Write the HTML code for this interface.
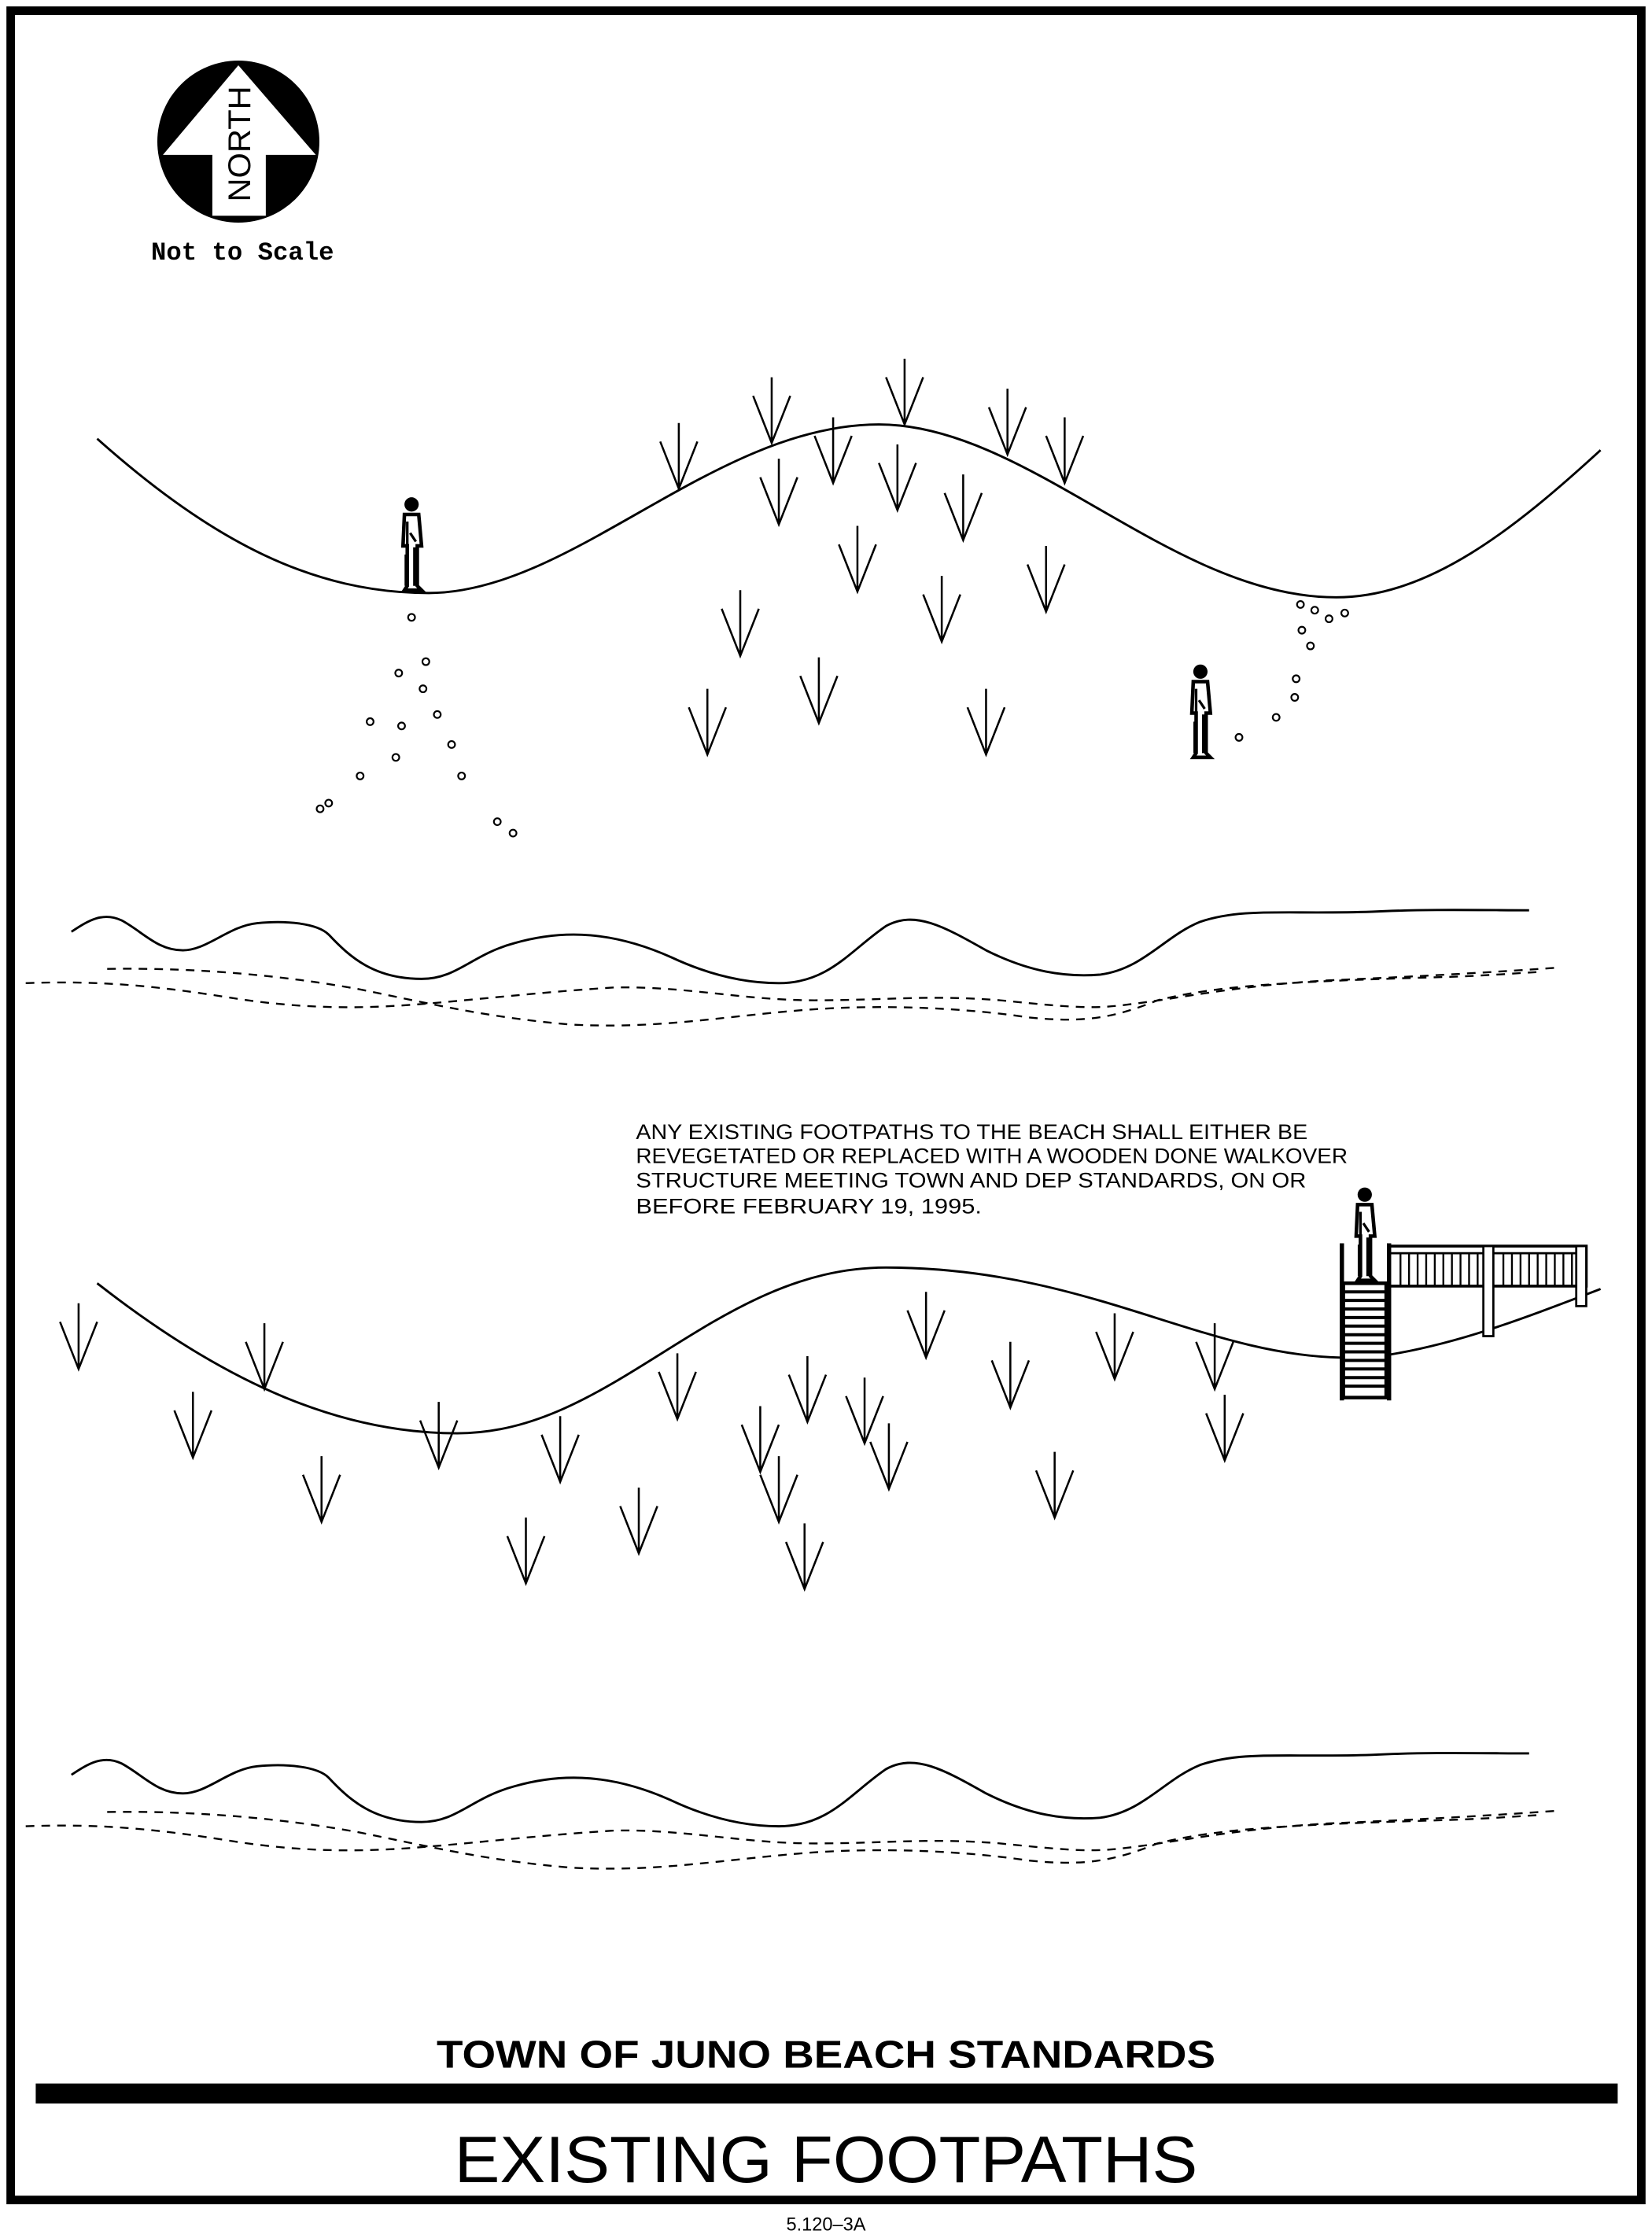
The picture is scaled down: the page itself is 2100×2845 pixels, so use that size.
<!DOCTYPE html>
<html><head><meta charset="utf-8"><style>html,body{margin:0;padding:0;background:#fff}svg{display:block}</style></head>
<body>
<svg width="2100" height="2845" viewBox="0 0 2100 2845" xmlns="http://www.w3.org/2000/svg">
<defs>
<g id="g"><path d="M0,-46 V0 M-13,-33 L0,0 L13,-33" fill="none" stroke="#000" stroke-width="1.4"/></g>
<g id="p"><circle cx="0" cy="-60" r="5" fill="#000"/><path d="M-5,-53 h10 l2,22 l-3,0 l0,28 l3,3 h-12 l2,-3 l0,-28 l-3,0 z" fill="#fff" stroke="#000" stroke-width="2.5"/><path d="M-3,-48 l0,20 M2,-30 l0,27 M-1,-40 l4,6 M-4,-25 l0,22" stroke="#000" stroke-width="1.8"/></g>
<circle id="o" r="2.4" fill="none" stroke="#000" stroke-width="1.2"/>
</defs>
<g transform="scale(1.8166)">
<rect x="7.5" y="7.5" width="1141" height="1532" fill="none" stroke="#000" stroke-width="6"/>
<text x="578" y="1561" font-family="Liberation Sans, sans-serif" font-size="13" text-anchor="middle">5.120–3A</text>
<!-- north -->
<circle cx="166.8" cy="99.1" r="56.7" fill="#000"/>
<path d="M166.8,45.7 L221,108.4 L186,108.4 L186,151 L148.6,151 L148.6,108.4 L114,108.4 Z" fill="#fff"/>
<text transform="translate(175,100.7) rotate(-90)" font-family="Liberation Sans, sans-serif" font-size="22" text-anchor="middle" textLength="81" lengthAdjust="spacingAndGlyphs">NORTH</text>
<text x="105.7" y="181.7" font-family="Liberation Mono, monospace" font-weight="bold" font-size="18" textLength="128" lengthAdjust="spacingAndGlyphs">Not to Scale</text>
<!-- upper dune -->
<path d="M68,307 C150,380 220,415 300,415 C400,415 500,297 615,297 C720,297 820,418 935,418 C1000,418 1060,370 1120,315" fill="none" stroke="#000" stroke-width="1.6"/>
<g>
<use href="#g" x="475" y="342"/><use href="#g" x="540" y="310"/><use href="#g" x="633" y="297"/><use href="#g" x="705" y="318"/><use href="#g" x="745" y="338"/><use href="#g" x="583" y="338"/><use href="#g" x="628" y="357"/><use href="#g" x="545" y="367"/><use href="#g" x="674" y="378"/><use href="#g" x="600" y="414"/><use href="#g" x="732" y="428"/><use href="#g" x="659" y="449"/><use href="#g" x="518" y="459"/><use href="#g" x="573" y="506"/><use href="#g" x="495" y="528"/><use href="#g" x="690" y="528"/>
</g>
<use href="#p" x="288" y="413"/>
<use href="#p" x="840" y="530"/>
<g>
<use href="#o" x="288" y="432"/><use href="#o" x="298" y="463"/><use href="#o" x="279" y="471"/><use href="#o" x="296" y="482"/><use href="#o" x="281" y="508"/><use href="#o" x="306" y="500"/><use href="#o" x="259" y="505"/><use href="#o" x="277" y="530"/><use href="#o" x="316" y="521"/><use href="#o" x="252" y="543"/><use href="#o" x="323" y="543"/><use href="#o" x="230" y="562"/><use href="#o" x="224" y="566"/><use href="#o" x="348" y="575"/><use href="#o" x="359" y="583"/>
<use href="#o" x="910" y="423"/><use href="#o" x="920" y="427"/><use href="#o" x="930" y="433"/><use href="#o" x="941" y="429"/><use href="#o" x="911" y="441"/><use href="#o" x="917" y="452"/><use href="#o" x="907" y="475"/><use href="#o" x="906" y="488"/><use href="#o" x="893" y="502"/><use href="#o" x="867" y="516"/>
</g>
<!-- shoreline group -->
<g id="shore" fill="none" stroke="#000">
<path stroke-width="1.6" d="M50,652 C62,644 72,638 85,644 C100,652 110,665 128,665 C145,665 160,648 180,646 C200,644 222,646 230,654 C245,670 262,685 295,685 C320,685 330,668 360,660 C395,650 430,652 470,670 C500,684 525,688 545,688 C580,688 595,665 620,648 C640,637 660,648 690,665 C720,680 745,684 770,682 C800,678 815,655 840,645 C870,635 900,640 960,638 C1000,636 1040,637 1070,637"/>
<g stroke-width="1.3" stroke-dasharray="6,5">
<path d="M18,688 C70,686 110,690 160,698 C210,706 250,706 290,703 C330,700 380,694 430,691 C480,690 520,700 570,700 C620,700 650,696 700,700 C740,704 760,706 780,704 C820,700 860,690 930,686 C1000,683 1050,680 1092,677"/>
<path d="M75,678 C140,677 200,683 250,692 C300,702 340,712 400,717 C460,720 500,712 560,707 C620,702 680,706 720,712 C760,716 780,712 810,700 C850,690 900,687 1000,684 C1040,683 1060,681 1080,680"/>
</g>
</g>
<use href="#shore" y="590"/>
<!-- text -->
<g font-family="Liberation Sans, sans-serif" font-size="15">
<text x="445" y="797" textLength="470" lengthAdjust="spacingAndGlyphs">ANY EXISTING FOOTPATHS TO THE BEACH SHALL EITHER BE</text>
<text x="445" y="814" textLength="498" lengthAdjust="spacingAndGlyphs">REVEGETATED OR REPLACED WITH A WOODEN DONE WALKOVER</text>
<text x="445" y="831" textLength="469" lengthAdjust="spacingAndGlyphs">STRUCTURE MEETING TOWN AND DEP STANDARDS, ON OR</text>
<text x="445" y="849" textLength="242" lengthAdjust="spacingAndGlyphs">BEFORE FEBRUARY 19, 1995.</text>
</g>
<!-- lower dune -->
<path d="M68,898 C160,970 240,1003 320,1003 C430,1003 500,887 620,887 C760,887 840,948 938,950" fill="none" stroke="#000" stroke-width="1.6"/>
<path d="M972,948 C1020,940 1060,925 1120,902" fill="none" stroke="#000" stroke-width="1.6"/>
<!-- walkover -->
<g stroke="#000" fill="none">
<rect x="940" y="898" width="30" height="80" fill="#fff" stroke-width="2.5"/>
<path d="M940,904h30M940,910h30M940,916h30M940,922h30M940,928h30M940,934h30M940,940h30M940,946h30M940,952h30M940,958h30M940,964h30M940,970h30" stroke-width="2.2"/>
<path d="M939,870 V980 M972,870 V980" stroke-width="3"/>
<rect x="972" y="872" width="138" height="28" stroke-width="2"/>
<path d="M972,877h138" stroke-width="1.5"/>
<path d="M980,877v23M986,877v23M992,877v23M998,877v23M1004,877v23M1010,877v23M1016,877v23M1022,877v23M1028,877v23M1034,877v23M1052,877v23M1058,877v23M1064,877v23M1070,877v23M1076,877v23M1082,877v23M1088,877v23M1094,877v23M1100,877v23" stroke-width="1.3"/>
<rect x="1038" y="872" width="7" height="63" fill="#fff" stroke-width="1.5"/>
<rect x="1103" y="872" width="7" height="42" fill="#fff" stroke-width="1.5"/>
</g>
<use href="#p" x="955" y="896"/>
<g>
<use href="#g" x="55" y="958"/><use href="#g" x="185" y="972"/><use href="#g" x="135" y="1020"/><use href="#g" x="225" y="1065"/><use href="#g" x="307" y="1027"/><use href="#g" x="392" y="1037"/><use href="#g" x="474" y="993"/><use href="#g" x="565" y="995"/><use href="#g" x="605" y="1010"/><use href="#g" x="648" y="950"/><use href="#g" x="707" y="985"/><use href="#g" x="780" y="965"/><use href="#g" x="850" y="972"/><use href="#g" x="857" y="1022"/><use href="#g" x="532" y="1030"/><use href="#g" x="545" y="1065"/><use href="#g" x="622" y="1042"/><use href="#g" x="447" y="1087"/><use href="#g" x="368" y="1108"/><use href="#g" x="563" y="1112"/><use href="#g" x="738" y="1062"/>
</g>
<!-- title -->
<text x="578" y="1447" font-family="Liberation Sans, sans-serif" font-weight="bold" font-size="27" text-anchor="middle" textLength="545" lengthAdjust="spacingAndGlyphs">TOWN OF JUNO BEACH STANDARDS</text>
<rect x="25" y="1458" width="1107" height="14" fill="#000"/>
<text x="578" y="1527" font-family="Liberation Sans, sans-serif" font-size="46" text-anchor="middle" textLength="520" lengthAdjust="spacingAndGlyphs">EXISTING FOOTPATHS</text>
</g>
</svg>
</body></html>
